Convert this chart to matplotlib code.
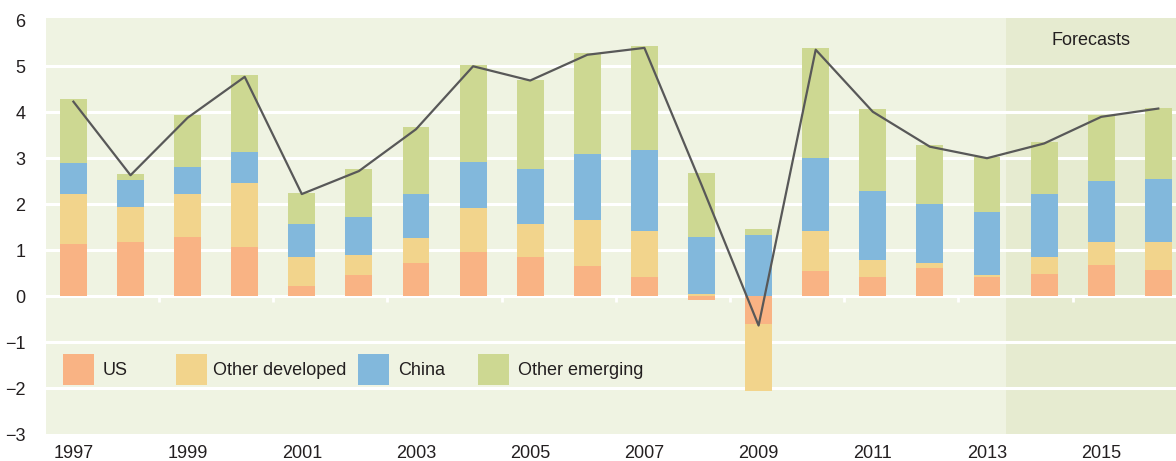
import numpy as np
import matplotlib
matplotlib.use("Agg")
import matplotlib.pyplot as plt
from matplotlib.patches import Rectangle

plt.rcParams['font.family'] = ['Liberation Sans', 'DejaVu Sans']

# contributions to world growth, percentage points
years = list(range(1997, 2017))
us = [1.14, 1.17, 1.28, 1.07, 0.23, 0.45, 0.72, 0.97, 0.85, 0.66,
      0.41, -0.09, -0.60, 0.55, 0.41, 0.61, 0.41, 0.49, 0.68, 0.57]
other_dev = [1.09, 0.76, 0.94, 1.40, 0.62, 0.45, 0.54, 0.94, 0.72, 0.99,
             1.01, 0.04, -1.47, 0.86, 0.38, 0.11, 0.05, 0.36, 0.49, 0.60]
china = [0.66, 0.59, 0.59, 0.67, 0.72, 0.83, 0.97, 1.00, 1.20, 1.44,
         1.75, 1.25, 1.33, 1.60, 1.50, 1.29, 1.37, 1.38, 1.33, 1.37]
other_em = [1.39, 0.14, 1.13, 1.67, 0.68, 1.03, 1.44, 2.12, 1.94, 2.20,
            2.28, 1.39, 0.13, 2.39, 1.77, 1.28, 1.19, 1.13, 1.44, 1.56]
world = [4.23, 2.63, 3.88, 4.77, 2.22, 2.72, 3.63, 5.00, 4.69, 5.25,
         5.40, 2.42, -0.64, 5.36, 4.01, 3.25, 3.00, 3.32, 3.90, 4.08]

series = [("US", us, "#f9b384"),
          ("Other developed", other_dev, "#f2d48c"),
          ("China", china, "#82b8dc"),
          ("Other emerging", other_em, "#cdd892")]

first_forecast = 2014
text_col = "#231f20"
fs = 13

fig = plt.figure(figsize=(11.76, 4.61), dpi=100)
ax = fig.add_axes([46 / 1176, 1 - 434 / 461, 1130 / 1176, 416 / 461])
ax.set_facecolor("#eff3e2")

x = np.array(years, dtype=float)
x_right = 2016.31
ax.set_xlim(1996.52, x_right)
ax.set_ylim(-2.95, 6.05)

# forecast shading
fc_start = first_forecast - 0.67
ax.axvspan(fc_start, x_right, color="#e6ebd0", lw=0, zorder=0)
ax.text((fc_start + x_right) / 2, 0.947, "Forecasts",
        transform=ax.get_xaxis_transform(), ha="center", va="center",
        fontsize=fs, color=text_col)

# grid
for g in range(-2, 6):
    ax.axhline(g, color="white", lw=2.2, zorder=1)
ax.vlines(x[1::2] + 0.5, -0.12, 0, color="white", lw=2, zorder=1)

# stacked bars, positives up and negatives down
pos = np.zeros(len(years))
neg = np.zeros(len(years))
for name, vals, col in series:
    v = np.array(vals)
    bottom = np.where(v >= 0, pos, neg)
    ax.bar(x, v, bottom=bottom, width=0.47, color=col, lw=0, zorder=2)
    pos = pos + np.where(v >= 0, v, 0)
    neg = neg + np.where(v < 0, v, 0)

ax.plot(x, world, color="#585858", lw=1.6, zorder=3)

ax.set_xticks(x[::2])
ax.set_xticklabels([str(y) for y in years[::2]])
ax.set_yticks(range(-3, 7))
ax.tick_params(axis="both", length=0, labelsize=fs, colors=text_col)
ax.tick_params(axis="x", pad=8)
ax.tick_params(axis="y", pad=15)
for s in ax.spines.values():
    s.set_visible(False)

# legend drawn by hand so the entries sit where the original has them
swatch_px = [63, 176, 358, 478]
label_px = [103, 213, 398, 518]
for (name, vals, col), sx, lx in zip(series, swatch_px, label_px):
    ax.add_patch(Rectangle(((sx - 46) / 1130, (434 - 385) / 416), 31 / 1130,
                           31 / 416, transform=ax.transAxes, color=col,
                           lw=0, zorder=4))
    ax.text((lx - 46) / 1130, (434 - 370) / 416, name, transform=ax.transAxes,
            ha="left", va="center", fontsize=fs, color=text_col, zorder=4)

fig.savefig("out.png", dpi=100)
